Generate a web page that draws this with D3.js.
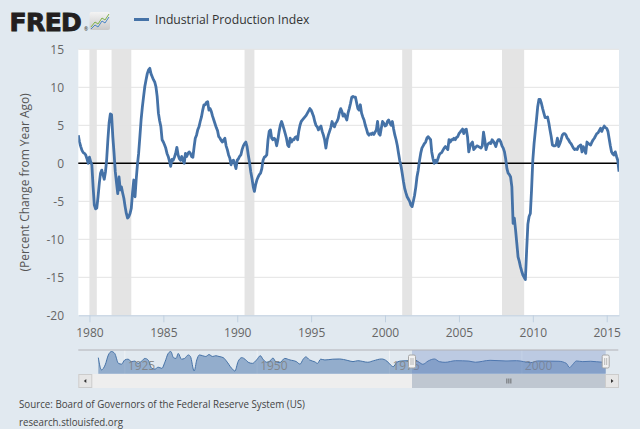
<!DOCTYPE html>
<html>
<head>
<meta charset="utf-8">
<script src="https://cdn.jsdelivr.net/npm/d3@7"></script>
<style>
  body { margin: 0; background: #e1e9f0; }
  svg { display: block; font-family: "Open Sans", sans-serif; }
</style>
</head>
<body>
<svg id="chart" width="640" height="429"></svg>
<script>
// monthly % change from year ago, starting Apr 1979
let firstMonth = "1979-04";
let ipChange = [
  3.7, 2.8, 2.2, 1.7, 1.4, 1.3, 1.1, 0.6, 0.0,
  0.8, 0.2, -0.2, -3.1, -5.5, -6.0, -5.9, -4.4, -2.6, -1.3, -0.9, -1.5,
  -2.1, -1.1, 0.4, 3.1, 5.3, 6.5, 6.4, 3.5, 1.3, -1.1, -2.6, -4.0,
  -1.8, -3.5, -3.1, -3.9, -4.6, -5.7, -6.6, -7.2, -7.0, -6.6, -5.9, -3.9,
  -2.2, -4.4, -2.2, -0.2, 1.3, 3.5, 5.7, 7.4, 8.8, 10.1, 11.0, 11.8,
  12.3, 12.5, 11.8, 11.4, 11.0, 10.7, 10.1, 8.8, 6.6, 5.6, 4.8, 3.1,
  2.8, 2.4, 2.0, 1.3, 0.9, 0.3, -0.4, 0.5, 0.4, 0.8, 1.3, 2.1,
  1.1, 0.6, 0.4, 0.9, 0.4, 0.0, 1.3, 0.9, 1.3, 1.5, 1.3, 0.9,
  0.8, 2.2, 3.3, 3.7, 4.4, 4.8, 5.5, 6.1, 7.0, 7.7, 7.7, 8.0,
  8.1, 7.0, 7.2, 6.8, 6.2, 5.7, 5.2, 4.7, 4.3, 3.5, 3.3, 3.0,
  2.8, 3.1, 3.3, 2.3, 1.8, 1.1, 0.7, -0.2, 0.3, 0.4, -0.1, -0.7,
  0.4, 0.6, 0.9, 1.1, 1.8, 2.3, 2.6, 2.8, 2.2, 1.1, 0.1, -1.1,
  -2.0, -3.1, -3.7, -2.8, -2.2, -1.8, -1.5, -1.3, -0.7, 0.4, 0.8, 0.9,
  1.1, 3.1, 4.2, 4.4, 3.3, 3.1, 3.3, 3.1, 2.3, 3.1, 4.2, 5.0,
  5.5, 5.0, 4.5, 3.9, 3.3, 2.4, 2.2, 3.3, 2.8, 3.1, 3.1, 3.4,
  3.5, 3.1, 4.2, 5.0, 5.5, 5.7, 5.9, 6.1, 6.3, 6.6, 6.9, 7.2,
  7.0, 6.6, 6.2, 5.5, 5.0, 4.8, 4.4, 4.7, 4.9, 4.2, 3.7, 3.1,
  2.0, 3.1, 3.7, 4.2, 4.7, 5.5, 5.0, 4.8, 5.3, 5.5, 5.9, 6.7,
  7.2, 6.8, 6.2, 6.5, 6.1, 5.7, 6.6, 7.2, 7.9, 8.7, 8.8, 8.7,
  8.7, 7.9, 7.2, 7.0, 7.7, 6.6, 6.1, 5.7, 5.0, 4.5, 3.9, 3.7,
  3.9, 3.8, 4.0, 3.8, 4.1, 4.4, 5.5, 3.9, 3.7, 4.6, 5.5, 5.3,
  4.9, 5.0, 5.5, 5.7, 5.3, 5.0, 5.5, 4.5, 3.7, 3.1, 2.3, 1.3,
  0.3, -0.4, -1.3, -2.4, -3.3, -3.9, -4.4, -4.7, -5.0, -5.5, -5.7, -5.0,
  -4.2, -3.1, -1.8, -0.9, 0.3, 1.3, 2.0, 2.3, 2.6, 2.8, 3.3, 3.5,
  3.3, 3.1, 1.5, 0.6, 0.0, 0.4, 0.1, 0.6, 1.1, 1.3, 1.4, 1.7,
  2.0, 2.2, 2.0, 1.8, 3.1, 2.8, 3.1, 3.1, 3.3, 3.1, 3.4, 3.5,
  3.9, 4.1, 4.3, 4.5, 3.9, 4.4, 4.5, 3.5, 1.5, 2.2, 2.6, 2.8,
  1.8, 2.0, 2.2, 2.3, 2.2, 2.1, 2.0, 2.3, 4.1, 3.1, 1.8, 2.4,
  2.6, 2.7, 2.6, 3.1, 2.9, 2.6, 2.2, 2.8, 3.1, 3.1, 2.8, 2.3,
  2.0, 1.5, 0.6, -0.7, -1.3, -1.5, -1.8, -3.1, -7.9, -7.2, -8.8, -10.5,
  -12.3, -12.9, -13.6, -14.2, -14.7, -15.0, -15.3, -11.5, -8.0, -7.0, -6.6, -3.5,
  0.4, 2.6, 4.1, 5.7, 7.4, 8.4, 8.4, 7.9, 7.2, 6.6, 6.0, 6.0,
  6.1, 5.3, 4.4, 3.5, 2.4, 2.3, 2.3, 2.4, 3.3, 2.2, 2.6, 3.1,
  3.7, 3.9, 3.9, 3.7, 3.3, 3.1, 2.8, 2.6, 2.3, 2.0, 1.8, 1.9,
  1.8, 2.2, 2.3, 2.4, 1.5, 2.2, 1.8, 1.3, 2.8, 2.6, 2.5, 2.4,
  2.8, 3.1, 3.3, 3.6, 3.9, 4.0, 4.3, 4.6, 4.2, 4.6, 4.9, 4.7,
  4.6, 4.2, 3.3, 2.3, 1.5, 1.2, 1.1, 1.5, 0.9, 0.4, -1.1
];

let recessionStart = ["1980-01", "1981-07", "1990-07", "2001-03", "2007-12"];
let recessionEnd = ["1980-07", "1982-11", "1991-03", "2001-11", "2009-06"];

let yTicks = [-20, -15, -10, -5, 0, 5, 10, 15];
let xTickYears = [1980, 1985, 1990, 1995, 2000, 2005, 2010, 2015];

// navigator (whole history)
let navYears = [1920.0, 1920.6, 1921.3, 1921.9, 1922.5, 1923.1, 1923.8, 1924.4, 1925.0, 1925.6,
  1926.3, 1926.9, 1927.5, 1928.2, 1928.8, 1929.4, 1930.1, 1930.7, 1931.3, 1932.0,
  1932.6, 1933.2, 1933.7, 1934.2, 1934.7, 1935.1, 1935.7, 1936.3, 1937.0, 1937.4,
  1938.1, 1938.6, 1939.1, 1939.7, 1940.3, 1940.9, 1941.6, 1942.2, 1942.8, 1943.6,
  1944.2, 1945.2, 1945.8, 1946.4, 1947.1, 1947.7, 1948.3, 1949.1, 1949.9, 1950.6,
  1951.1, 1951.8, 1952.4, 1953.0, 1953.5, 1954.3, 1955.2, 1956.2, 1957.4, 1958.1,
  1958.7, 1959.2, 1959.9, 1960.9, 1961.4, 1962.0, 1962.8, 1964.3, 1965.6, 1967.0,
  1968.1, 1969.0, 1970.9, 1972.0, 1973.5, 1974.5, 1975.2, 1975.7, 1976.4, 1977.2,
  1978.5, 1979.1, 1979.8, 1980.6, 1981.3, 1982.3, 1983.5, 1984.4, 1985.5, 1987.5,
  1990.0, 1991.2, 1994.0, 1997.0, 1999.0, 2001.7, 2003.0, 2005.0, 2007.0, 2008.4,
  2009.0, 2009.6, 2010.3, 2011.5, 2013.0, 2015.3, 2015.83];
let navValues = [10, -22, -9, 17, 26, 21, -5, -7, 4, 6,
  -0.4, 1, -5, 1, 8, 4, -18, -20, -15, -18,
  -1, 21, 26, 10, 8, 21, 6, 8, 17, 13,
  -25, 4, 17, 15, 13, 18, 13, 15, 13, 10,
  1, -18, -25, -0.4, 10, 6, -2, -5, 4, 15,
  6, -2, 1, 9, -0.4, -3, 8, 4, -0.4, -7,
  6, 12, 4, -1, -5, 6, 4, 6, 6.5, 3,
  -0.4, 2, -2, 2, 6.5, 1, -9, -13.6, -2, 1.3,
  2, -2.2, 4, -2.2, -7.4, 1.3, 6.5, -0.4, -2.2, 2,
  1, -2, 3, 1.3, 2, -3, 1.3, 1, 0.5, -5,
  -16, -8, 1.3, -0.4, 0.5, -2, -1];
let navLabels = [1925, 1950, 1975, 2000];

let parseMonth = d3.timeParse("%Y-%m");
let start = parseMonth(firstMonth);
let months = ipChange.map((v, i) => d3.timeMonth.offset(start, i));
let series = months.map((m, i) => ({ date: m, value: ipChange[i] }));

let pLeft = 78.3, pRight = 619, pTop = 49.3, pBottom = 315.3;

let xScale = d3.scaleTime()
  .domain([months[0], months[months.length - 1]])
  .range([pLeft, pRight]);

let yScale = d3.scaleLinear()
  .domain([-20, 15])
  .range([pBottom, pTop]);

let svg = d3.select("#chart");

svg.append("rect").attr("width", 640).attr("height", 429).attr("fill", "#e1e9f0");

// header: logo + legend
svg.append("text")
  .attr("x", 9.5).attr("y", 30.5)
  .style("font-family", "DejaVu Sans")
  .style("font-weight", "bold")
  .style("font-size", "25px")
  .style("letter-spacing", "-0.6px")
  .attr("fill", "#231f20")
  .attr("stroke", "#231f20")
  .attr("stroke-width", 0.9)
  .text("FRED");
svg.append("text")
  .attr("x", 84).attr("y", 31)
  .style("font-size", "5px")
  .attr("fill", "#231f20")
  .text("®");

let grad = svg.append("defs").append("linearGradient")
  .attr("id", "icon").attr("x1", 0).attr("y1", 0).attr("x2", 0).attr("y2", 1);
grad.append("stop").attr("offset", "0%").attr("stop-color", "#f4f4f4");
grad.append("stop").attr("offset", "100%").attr("stop-color", "#c9c9c9");
svg.append("rect")
  .attr("x", 89.5).attr("y", 12).attr("width", 20.5).attr("height", 18).attr("rx", 2)
  .attr("fill", "url(#icon)");
svg.append("polyline")
  .attr("points", "91,27 95,22 98,24 102,18 105,20 109,14")
  .attr("fill", "none").attr("stroke", "#7fb24b").attr("stroke-width", 1);
svg.append("polyline")
  .attr("points", "91,29 95,25 98,27 102,21 105,23 109,17")
  .attr("fill", "none").attr("stroke", "#4a86c5").attr("stroke-width", 1);

svg.append("line")
  .attr("x1", 134).attr("x2", 149).attr("y1", 19.5).attr("y2", 19.5)
  .attr("stroke", "#4572a7").attr("stroke-width", 3);
svg.append("text")
  .attr("x", 155).attr("y", 24)
  .style("font-size", "12.2px")
  .attr("fill", "#333")
  .text("Industrial Production Index");

// plot area
svg.append("rect")
  .attr("x", pLeft).attr("y", pTop)
  .attr("width", pRight - pLeft).attr("height", pBottom - pTop)
  .attr("fill", "#ffffff");

// recession bars
svg.append("g").selectAll("rect")
  .data(recessionStart.map((s, i) => ({ s: parseMonth(s), e: parseMonth(recessionEnd[i]) })))
  .enter()
  .append("rect")
  .attr("x", d => xScale(d.s))
  .attr("width", d => xScale(d.e) - xScale(d.s))
  .attr("y", pTop)
  .attr("height", pBottom - pTop)
  .attr("fill", "#e4e4e4");

// grid
svg.append("g").selectAll("line")
  .data(yTicks.filter(t => t > -20))
  .enter()
  .append("line")
  .attr("x1", pLeft).attr("x2", pRight)
  .attr("y1", d => yScale(d)).attr("y2", d => yScale(d))
  .attr("stroke", "#e3e3e3").attr("stroke-width", 1);

// y tick labels
svg.append("g").selectAll("text")
  .data(yTicks)
  .enter()
  .append("text")
  .attr("x", 64)
  .attr("y", d => yScale(d) + 4.5)
  .attr("text-anchor", "end")
  .style("font-size", "12px")
  .attr("fill", "#666")
  .text(d => d);

// y axis title
svg.append("text")
  .attr("transform", "translate(29," + ((pTop + pBottom) / 2) + ") rotate(-90)")
  .attr("text-anchor", "middle")
  .style("font-size", "12px")
  .attr("fill", "#555")
  .text("(Percent Change from Year Ago)");

// x axis
let xAxis = d3.axisBottom(xScale)
  .tickValues(xTickYears.map(y => new Date(y, 0, 1)))
  .tickFormat(d3.timeFormat("%Y"))
  .tickSizeInner(7)
  .tickSizeOuter(0);
let gx = svg.append("g")
  .attr("transform", "translate(0," + pBottom + ")")
  .call(xAxis);
gx.select(".domain").attr("stroke", "#c0d0e0");
gx.selectAll(".tick line").attr("stroke", "#c0d0e0");
gx.selectAll(".tick text")
  .attr("y", 13)
  .style("font-family", "Open Sans")
  .style("font-size", "12px")
  .attr("fill", "#666");

// zero line
svg.append("line")
  .attr("x1", pLeft).attr("x2", pRight)
  .attr("y1", yScale(0)).attr("y2", yScale(0))
  .attr("stroke", "#000").attr("stroke-width", 1.6);

// series
svg.append("clipPath").attr("id", "plotclip")
  .append("rect")
  .attr("x", pLeft).attr("y", pTop)
  .attr("width", pRight - pLeft).attr("height", pBottom - pTop);

let line = d3.line()
  .x(d => xScale(d.date))
  .y(d => yScale(d.value));

svg.append("path")
  .datum(series)
  .attr("clip-path", "url(#plotclip)")
  .attr("d", line)
  .attr("fill", "none")
  .attr("stroke", "#4572a7")
  .attr("stroke-width", 2.8)
  .attr("stroke-linejoin", "round");

// navigator
let navTop = 350, navBottom = 373.7;
let navX = d3.scaleLinear().domain([1920, 2015.833]).range([98.3, 605.7]);
let navY = d3.scaleLinear().domain([-32, 30]).range([navBottom, navTop]);
let navData = navYears.map((y, i) => ({ year: y, value: navValues[i] }));

let navArea = d3.area()
  .x(d => navX(d.year))
  .y0(navBottom)
  .y1(d => navY(d.value))
  .curve(d3.curveMonotoneX);

svg.append("g").selectAll("line")
  .data(navLabels)
  .enter()
  .append("line")
  .attr("x1", d => navX(d)).attr("x2", d => navX(d))
  .attr("y1", navTop).attr("y2", navBottom)
  .attr("stroke", "#eef2f6").attr("stroke-width", 1);

svg.append("path")
  .datum(navData)
  .attr("d", navArea)
  .attr("fill", "#4572a7")
  .attr("fill-opacity", 0.5);
svg.append("path")
  .datum(navData)
  .attr("d", navArea.lineY1())
  .attr("fill", "none")
  .attr("stroke", "#4572a7")
  .attr("stroke-width", 1);

svg.append("g").selectAll("text")
  .data(navLabels)
  .enter()
  .append("text")
  .attr("x", d => navX(d) + 3)
  .attr("y", 370)
  .style("font-size", "12px")
  .attr("fill", "#7f7f7f")
  .attr("fill-opacity", 0.85)
  .text(d => d);

let selL = navX(1979.25), selR = navX(2015.833);
svg.append("rect")
  .attr("x", selL).attr("y", navTop)
  .attr("width", selR - selL).attr("height", navBottom - navTop)
  .attr("fill", "#6685c2").attr("fill-opacity", 0.3);

svg.append("line")
  .attr("x1", pLeft).attr("x2", 618.3)
  .attr("y1", navTop).attr("y2", navTop)
  .attr("stroke", "#b2b1b6").attr("stroke-width", 1);

// handles
[selL, selR].forEach(function (hx) {
  svg.append("rect")
    .attr("x", hx - 3.5).attr("y", 355).attr("width", 7).attr("height", 13).attr("rx", 1.5)
    .attr("fill", "#f2f2f2").attr("stroke", "#a6a6a6").attr("stroke-width", 1);
  [-1, 1].forEach(function (o) {
    svg.append("line")
      .attr("x1", hx + o).attr("x2", hx + o)
      .attr("y1", 358).attr("y2", 365)
      .attr("stroke", "#aaa").attr("stroke-width", 0.8);
  });
});

// scrollbar
let sbTop = 374, sbH = 14;
svg.append("rect")
  .attr("x", pLeft).attr("y", sbTop).attr("width", 618.3 - pLeft).attr("height", sbH)
  .attr("fill", "#eeeeee");
svg.append("rect")
  .attr("x", selL).attr("y", sbTop).attr("width", selR - selL).attr("height", sbH)
  .attr("fill", "#bfc7d1");
[0, 1].forEach(function (k) {
  let bx = k === 0 ? pLeft : 605;
  svg.append("rect")
    .attr("x", bx + 0.5).attr("y", sbTop + 0.5).attr("width", 13).attr("height", sbH - 1)
    .attr("fill", "#e6e6e6").attr("stroke", "#cccccc").attr("stroke-width", 1);
  let cx = bx + 7, cy = sbTop + sbH / 2;
  let pts = k === 0
    ? [[cx - 1.5, cy], [cx + 1, cy - 2], [cx + 1, cy + 2]]
    : [[cx + 1.5, cy], [cx - 1, cy - 2], [cx - 1, cy + 2]];
  svg.append("polygon").attr("points", pts.join(" ")).attr("fill", "#333");
});
let mid = (selL + selR) / 2;
[-2, 0, 2].forEach(function (o) {
  svg.append("line")
    .attr("x1", mid + o).attr("x2", mid + o)
    .attr("y1", sbTop + 4.5).attr("y2", sbTop + sbH - 4.5)
    .attr("stroke", "#555").attr("stroke-width", 0.8);
});

// footer (narrow face in the original)
svg.append("text")
  .attr("x", 19).attr("y", 408)
  .style("font-size", "11px")
  .attr("fill", "#444")
  .attr("textLength", 286)
  .attr("lengthAdjust", "spacingAndGlyphs")
  .text("Source: Board of Governors of the Federal Reserve System (US)");
svg.append("text")
  .attr("x", 19).attr("y", 426)
  .style("font-size", "11px")
  .attr("fill", "#444")
  .attr("textLength", 104)
  .attr("lengthAdjust", "spacingAndGlyphs")
  .text("research.stlouisfed.org");
</script>
</body>
</html>
